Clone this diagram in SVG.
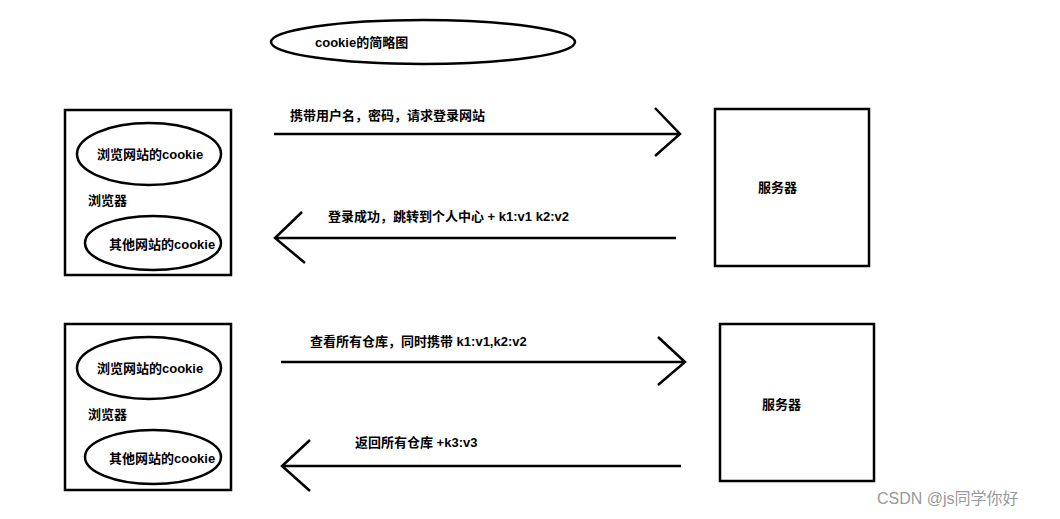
<svg xmlns="http://www.w3.org/2000/svg" width="1060" height="519" viewBox="0 0 1060 519">
<style>
.s{fill:none;stroke:#000;stroke-width:2.5}
.t{font-family:"Liberation Sans","Noto Sans CJK SC",sans-serif;font-size:13px;font-weight:bold;fill:#000;dominant-baseline:central}
</style>
<rect width="1060" height="519" fill="#fff"/>
<g id="title"><ellipse class="s" cx="423" cy="42" rx="152" ry="22"/><text class="t" x="315" y="42">cookie的简略图</text></g>
<g id="browser1">
<rect class="s" x="65" y="110" width="166" height="165"/>
<ellipse class="s" cx="149" cy="154" rx="72" ry="31"/><text class="t" x="97" y="154">浏览网站的cookie</text>
<text class="t" x="88" y="200">浏览器</text>
<ellipse class="s" cx="153" cy="243" rx="68" ry="27"/><text class="t" x="109" y="244">其他网站的cookie</text>
</g>
<g id="server1"><rect class="s" x="715" y="109" width="154" height="157"/><text class="t" x="758" y="187">服务器</text></g>
<g id="browser2">
<rect class="s" x="65" y="324" width="166" height="166"/>
<ellipse class="s" cx="149" cy="368" rx="72" ry="31"/><text class="t" x="97" y="368">浏览网站的cookie</text>
<text class="t" x="88" y="414">浏览器</text>
<ellipse class="s" cx="153" cy="457" rx="68" ry="27"/><text class="t" x="109" y="458">其他网站的cookie</text>
</g>
<g id="server2"><rect class="s" x="720" y="324" width="154" height="157"/><text class="t" x="762" y="404">服务器</text></g>
<g id="connectors">
<path class="s" d="M274 134H680M655 108L680 134L655 156"/>
<text class="t" x="290" y="115">携带用户名，密码，请求登录网站</text>
<path class="s" d="M275 238H676M302 212L275 238L305 263"/>
<text class="t" x="328" y="216">登录成功，跳转到个人中心 +    k1:v1 k2:v2</text>
<path class="s" d="M281 362H685M658 337L685 362L658 385"/>
<text class="t" x="310" y="341">查看所有仓库，同时携带 k1:v1,k2:v2</text>
<path class="s" d="M282 466H681M310 440L282 466L310 491"/>
<text class="t" x="355" y="442">返回所有仓库 +k3:v3</text>
</g>
<text x="877" y="504" font-family="Liberation Sans,Noto Sans CJK SC,sans-serif" font-size="16" fill="#999">CSDN @js同学你好</text>
</svg>
